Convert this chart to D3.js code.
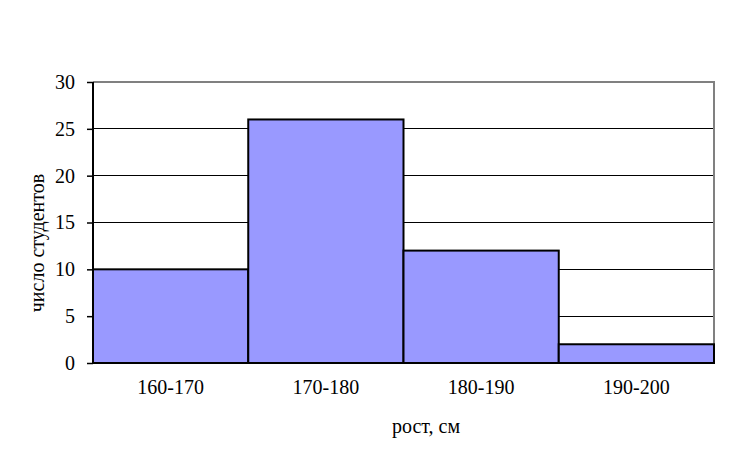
<!DOCTYPE html>
<html><head><meta charset="utf-8">
<script src="https://cdn.jsdelivr.net/npm/d3@7"></script>
<style>body{margin:0;background:#fff}svg{display:block}</style>
</head><body>
<svg id="c" width="747" height="453" font-family="Liberation Serif, DejaVu Serif, serif"></svg>
<script>
const categories = ["160-170","170-180","180-190","190-200"];
const counts = [10,26,12,2];
const yTicks = [0,5,10,15,20,25,30];
const xTitle = "рост, см";
const yTitle = "число студентов";

const FONT = "Liberation Serif, DejaVu Serif, serif";
const FS = 20;
const svg = d3.select("#c");
const L=93, R=714, T=82, B=363;
const x = d3.scaleBand().domain(categories).range([L,R]).padding(0);
const y = d3.scaleLinear().domain([0,30]).range([B,T]);

svg.append("g").selectAll("line").data(yTicks.filter(d=>d>0&&d<30)).join("line")
  .attr("x1",L).attr("x2",R).attr("y1",d=>y(d)).attr("y2",d=>y(d))
  .attr("stroke","#000").attr("stroke-width",1).attr("shape-rendering","crispEdges");
svg.append("path").attr("d",`M${L},${T}H${R}V${B}`).attr("fill","none")
  .attr("stroke","#808080").attr("stroke-width",2);

svg.append("g").selectAll("rect").data(categories).join("rect")
  .attr("x",d=>x(d)).attr("width",x.bandwidth())
  .attr("y",(d,i)=>y(counts[i])).attr("height",(d,i)=>y(0)-y(counts[i]))
  .attr("fill","#9999FF").attr("stroke","#000").attr("stroke-width",2);

const ya = svg.append("g").attr("transform",`translate(${L},0)`)
  .call(d3.axisLeft(y).tickValues(yTicks).tickSize(6).tickPadding(12));
ya.attr("font-family",FONT).attr("font-size",FS);
ya.select(".domain").attr("stroke","#000").attr("stroke-width",2).attr("d",`M0,${T}V${B}`);
ya.selectAll(".tick line").attr("stroke","#000").attr("stroke-width",1.5);
ya.selectAll("text").attr("fill","#000");

const xa = svg.append("g").attr("transform",`translate(0,${B})`)
  .call(d3.axisBottom(x).tickSize(0).tickPadding(17));
xa.attr("font-family",FONT).attr("font-size",FS);
xa.select(".domain").attr("stroke","#000").attr("stroke-width",2).attr("d",`M${L},0H${R}`);
xa.selectAll("text").attr("fill","#000");

svg.append("text").attr("x",426).attr("y",433).attr("text-anchor","middle")
  .attr("font-family",FONT).attr("font-size",FS).attr("fill","#000").text(xTitle);
svg.append("text").attr("transform","translate(44,243) rotate(-90)").attr("text-anchor","middle")
  .attr("font-family",FONT).attr("font-size",FS).attr("fill","#000").text(yTitle);
</script>
</body></html>
